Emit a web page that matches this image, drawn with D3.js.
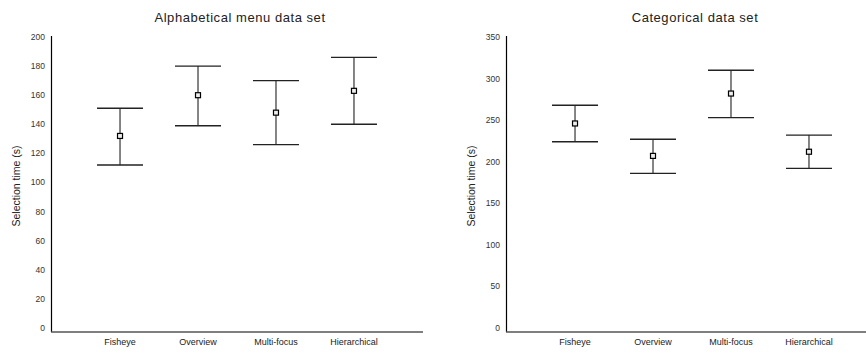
<!DOCTYPE html>
<html>
<head>
<meta charset="utf-8">
<script src="https://cdn.jsdelivr.net/npm/d3@7"></script>
<style>
  body { margin: 0; background: #fff; }
  svg { display: block; font-family: "Liberation Sans", Arial, sans-serif; }
</style>
</head>
<body>
<script>
var categories = ["Fisheye", "Overview", "Multi-focus", "Hierarchical"];

// alphabetical menu data set: mean and interval ends (s)
var alphaMean = [132, 160, 148, 163];
var alphaLow = [112, 139, 126, 140];
var alphaHigh = [151, 180, 170, 186];
var alphaTicks = [0, 20, 40, 60, 80, 100, 120, 140, 160, 180, 200];

// categorical data set
var catMean = [246, 207, 282, 212];
var catLow = [224, 186, 253, 192];
var catHigh = [268, 227, 310, 232];
var catTicks = [0, 50, 100, 150, 200, 250, 300, 350];

var w = 866,
    h = 356;

var svg = d3.select("body").append("svg")
    .attr("width", w)
    .attr("height", h);

function panel(left, title, mean, low, high, ticks) {
    var plotW = 372,
        top = 37,
        zeroY = 328,
        axisY = 332;

    var g = svg.append("g");

    var x = d3.scalePoint()
        .domain(categories)
        .range([left, left + plotW])
        .padding(0.885);

    var y = d3.scaleLinear()
        .domain([0, d3.max(ticks)])
        .range([zeroY, top]);

    // title
    g.append("text")
        .attr("x", left + plotW / 2 + 3)
        .attr("y", 22)
        .attr("text-anchor", "middle")
        .attr("font-size", "13px")
        .attr("letter-spacing", "0.55px")
        .attr("fill", "#222")
        .text(title);

    // y axis label
    g.append("text")
        .attr("transform", "translate(" + (left - 31) + "," + 186 + ") rotate(-90)")
        .attr("text-anchor", "middle")
        .attr("font-size", "10.5px")
        .attr("fill", "#222")
        .text("Selection time (s)");

    // tick labels
    g.selectAll(".ytick")
        .data(ticks)
        .enter().append("text")
        .attr("x", left - 6)
        .attr("y", function (d) { return y(d); })
        .attr("dy", "0.35em")
        .attr("text-anchor", "end")
        .attr("font-size", "8.5px")
        .attr("fill", "#333")
        .text(function (d) { return d; });

    g.selectAll(".xtick")
        .data(categories)
        .enter().append("text")
        .attr("x", function (d) { return x(d); })
        .attr("y", 345)
        .attr("text-anchor", "middle")
        .attr("font-size", "9px")
        .attr("fill", "#222")
        .text(function (d) { return d; });

    // axes
    g.append("line")
        .attr("x1", left + 0.5).attr("x2", left + 0.5)
        .attr("y1", top - 1).attr("y2", axisY)
        .attr("stroke", "#000")
        .attr("stroke-width", 1.2);

    g.append("line")
        .attr("x1", left).attr("x2", left + plotW)
        .attr("y1", axisY).attr("y2", axisY)
        .attr("stroke", "#555")
        .attr("stroke-width", 1.5);

    // error bars
    var bars = g.selectAll(".bar")
        .data(categories)
        .enter().append("g");

    bars.append("line")
        .attr("x1", function (d) { return x(d); })
        .attr("x2", function (d) { return x(d); })
        .attr("y1", function (d, i) { return y(high[i]); })
        .attr("y2", function (d, i) { return y(low[i]); })
        .attr("stroke", "#444")
        .attr("stroke-width", 1.3);

    [high, low].forEach(function (arr) {
        bars.append("line")
            .attr("x1", function (d) { return x(d) - 23; })
            .attr("x2", function (d) { return x(d) + 23; })
            .attr("y1", function (d, i) { return y(arr[i]); })
            .attr("y2", function (d, i) { return y(arr[i]); })
            .attr("stroke", "#222")
            .attr("stroke-width", 1.4);
    });

    bars.append("rect")
        .attr("x", function (d) { return x(d) - 2.5; })
        .attr("y", function (d, i) { return y(mean[i]) - 2.5; })
        .attr("width", 5)
        .attr("height", 5)
        .attr("fill", "#eee")
        .attr("stroke", "#000")
        .attr("stroke-width", 1.2);
}

panel(51, "Alphabetical menu data set", alphaMean, alphaLow, alphaHigh, alphaTicks);
panel(506, "Categorical data set", catMean, catLow, catHigh, catTicks);
</script>
</body>
</html>
